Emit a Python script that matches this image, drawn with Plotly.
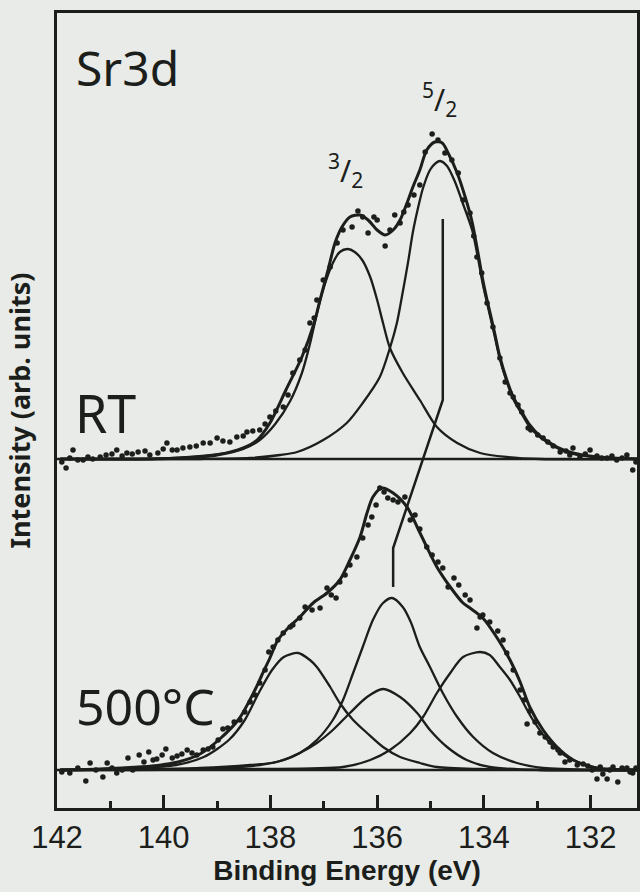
import plotly.graph_objects as go

# ---------------- data (binding energy in eV, intensity in arb. units) ----------------
RT_OFFSET = 349
HT_OFFSET = 38

rt_pts_be = [141.91,141.83,141.76,141.70,141.61,141.51,141.42,141.33,141.19,141.08,
             140.97,140.88,140.78,140.69,140.59,140.48,140.35,140.26,140.11,140.01,
             139.94,139.84,139.75,139.64,139.51,139.39,139.26,139.13,139.00,138.89,
             138.76,138.63,138.51,138.44,138.33,138.20,138.10,138.01,137.90,137.76,
             137.67,137.58,137.45,137.35,137.26,137.18,137.13,137.01,136.88,136.75,
             136.64,136.47,136.36,136.27,136.17,136.06,136.00,135.85,135.76,135.67,
             135.57,135.50,135.42,135.31,135.20,135.10,134.97,134.86,134.73,134.60,
             134.48,134.39,134.26,134.19,134.13,134.04,133.94,133.83,133.70,133.60,
             133.51,133.45,133.36,133.29,133.17,133.12,132.99,132.89,132.80,132.70,
             132.57,132.46,132.39,132.33,132.20,132.10,132.01,131.88,131.79,131.69,
             131.60,131.51,131.41,131.32,131.21,131.15]
rt_pts_int = [-3,-9,1,9,-1,-1,2,0,2,4,
              5,9,3,6,5,7,8,4,6,10,
              16,9,9,11,12,13,16,16,21,18,
              17,22,23,27,28,29,35,42,48,52,
              64,86,99,109,136,141,159,179,192,216,
              229,232,248,242,226,242,239,213,229,244,
              236,247,254,264,274,307,325,319,306,299,
              286,259,246,223,202,186,156,132,101,77,
              66,62,54,47,31,29,24,21,17,13,
              7,8,4,11,2,5,9,3,1,1,
              3,-1,1,4,-11,-3]

rt_fit_be = [141.94,141.19,140.26,139.64,139.00,138.51,138.25,138.01,137.71,137.41,
             137.18,137.07,136.92,136.79,136.66,136.51,136.32,136.17,136.00,135.85,
             135.70,135.57,135.44,135.33,135.20,135.07,134.92,134.78,134.67,134.50,
             134.35,134.22,134.11,134.02,133.94,133.81,133.70,133.57,133.45,133.29,
             133.14,132.95,132.63,132.33,131.88,131.13]
rt_fit_int = [0,0,0,1,4,11,19,36,69,102,
              136,159,189,216,232,242,244,239,229,224,
              229,239,256,272,289,309,317,316,306,286,
              262,237,206,179,159,129,102,79,62,47,
              34,23,12,6,2,0]

rt_d52_be = [141.94,140.26,139.32,138.38,137.82,137.50,137.01,136.57,136.27,135.95,
             135.76,135.63,135.52,135.42,135.33,135.23,135.14,135.01,134.90,134.82,
             134.69,134.54,134.39,134.22,134.11,134.02,133.94,133.81,133.70,133.57,
             133.45,133.29,133.14,132.95,132.63,132.33,131.88,131.13]
rt_d52_int = [0,0,0,1,4,7,19,36,56,82,
              111,136,167,197,227,252,271,289,296,298,
              293,277,255,229,201,175,156,126,100,77,
              60,45,32,22,11,5,2,0]

rt_d32_be = [141.94,140.26,139.51,138.95,138.51,138.20,137.91,137.63,137.41,137.26,
             137.11,137.01,136.83,136.70,136.55,136.42,136.28,136.13,136.00,135.89,
             135.76,135.52,135.20,134.88,134.50,134.07,133.57,132.95,131.13]
rt_d32_int = [0,0,2,5,10,19,35,58,86,115,
              150,170,196,207,210,207,199,182,159,136,
              111,86,59,32,16,6,2,0,0]

ht_pts_be = [141.91,141.76,141.61,141.46,141.38,141.27,141.14,141.06,140.97,140.88,
             140.78,140.67,140.58,140.46,140.37,140.28,140.20,140.13,140.03,139.96,
             139.84,139.75,139.66,139.56,139.47,139.38,139.26,139.17,139.08,138.98,
             138.89,138.80,138.68,138.57,138.48,138.38,138.29,138.20,138.10,138.03,
             137.95,137.86,137.76,137.63,137.58,137.45,137.35,137.22,137.07,136.94,
             136.86,136.77,136.70,136.60,136.51,136.38,136.27,136.17,136.10,136.02,
             135.95,135.87,135.80,135.70,135.61,135.48,135.38,135.29,135.20,135.07,
             134.97,134.86,134.77,134.67,134.56,134.47,134.35,134.26,134.13,134.07,
             134.02,133.89,133.74,133.64,133.57,133.45,133.32,133.25,133.19,133.14,
             133.04,132.95,132.85,132.76,132.70,132.61,132.57,132.48,132.39,132.25,
             132.14,132.05,131.97,131.88,131.82,131.77,131.69,131.64,131.58,131.49,
             131.41,131.32,131.26,131.21,131.15]
ht_pts_int = [-2,-3,2,-11,7,0,-7,7,2,-3,
              0,12,0,15,8,18,10,11,15,21,
              12,14,16,20,17,15,20,21,23,30,
              41,42,48,50,58,68,75,87,100,118,
              123,130,137,143,145,152,163,160,162,182,
              175,172,188,195,205,213,232,245,253,265,
              282,278,272,270,268,273,250,255,241,223,
              215,208,202,183,192,185,175,170,142,153,
              155,148,139,130,117,100,80,70,46,59,
              48,37,33,28,23,20,17,8,10,5,
              6,4,0,-9,3,-4,-9,0,3,-12,
              2,2,-2,-3,2]

ht_fit_be = [141.94,141.19,140.78,140.22,139.73,139.32,138.95,138.59,138.29,138.16,
             138.01,137.86,137.67,137.45,137.20,136.94,136.70,136.51,136.32,136.19,
             136.08,135.91,135.70,135.44,135.25,135.07,134.88,134.63,134.39,134.26,
             134.02,133.75,133.51,133.32,133.14,132.89,132.57,132.25,131.88,131.13]
ht_fit_int = [0,1,2,4,8,16,31,51,80,95,
              112,130,142,153,167,177,190,210,233,257,
              273,282,277,263,243,223,203,183,167,162,
              152,132,110,88,63,40,20,8,2,0]

ht_c1_be = [141.94,140.54,139.77,139.25,138.78,138.48,138.21,137.97,137.75,137.48,
            137.26,137.13,136.88,136.70,136.45,136.19,135.89,135.57,135.20,134.88,
            134.07,132.57,131.13]
ht_c1_int = [0,2,5,13,30,50,78,100,113,117,
             110,103,83,67,50,37,23,13,7,3,
             1,0,0]

ht_c2_be = [141.94,139.32,138.38,137.88,137.45,137.13,136.83,136.64,136.45,136.27,
            136.08,135.89,135.72,135.52,135.37,135.20,135.01,134.77,134.50,134.20,
            133.83,133.38,132.89,131.82,131.13]
ht_c2_int = [0,2,5,8,17,30,50,70,97,123,
             150,167,172,163,148,123,103,77,53,33,
             17,7,2,0,0]

ht_c3_be = [141.94,139.32,138.20,137.76,137.45,137.13,136.83,136.51,136.19,135.89,
            135.57,135.25,135.01,134.69,134.32,133.89,132.95,131.13]
ht_c3_int = [0,1,5,10,17,27,40,57,73,81,
             73,57,40,23,10,3,0,0]

ht_c4_be = [141.94,138.38,136.64,136.13,135.76,135.38,135.14,134.88,134.63,134.39,
            134.07,133.89,133.70,133.51,133.32,133.08,132.76,132.44,132.07,131.64,
            131.13]
ht_c4_int = [0,1,3,10,20,37,53,77,97,113,
             118,115,103,90,73,50,27,13,5,0,
             0]

shift_be = [134.77, 134.77, 135.70, 135.70]
shift_int = [589, 408, 260, 221]

baseline_be = [142.0, 131.13]
x_ticks = [142, 140, 138, 136, 134, 132]
x_minor_ticks = [141, 139, 137, 135, 133]

# ---------------- styling ----------------
INK = "#1c1e1c"
BG = "#e8ebe7"
LABEL_FONT = "Noto Sans, DejaVu Sans, sans-serif"
TICK_FONT = "Liberation Sans, Arial, sans-serif"


def shifted(vals, off):
    return [v + off for v in vals]


fig = go.Figure()


def add_curve(xs, ys, width):
    fig.add_trace(go.Scatter(x=xs, y=ys, mode="lines",
                             line=dict(color=INK, width=width, shape="spline", smoothing=0.8),
                             hoverinfo="skip"))


# baselines
for off in (RT_OFFSET, HT_OFFSET):
    fig.add_trace(go.Scatter(x=baseline_be, y=[off, off], mode="lines",
                             line=dict(color=INK, width=2.5), hoverinfo="skip"))

# RT components and fit
add_curve(rt_d32_be, shifted(rt_d32_int, RT_OFFSET), 2.3)
add_curve(rt_d52_be, shifted(rt_d52_int, RT_OFFSET), 2.3)
add_curve(rt_fit_be, shifted(rt_fit_int, RT_OFFSET), 3)

# 500 C components and fit
for be, it in ((ht_c1_be, ht_c1_int), (ht_c2_be, ht_c2_int),
               (ht_c3_be, ht_c3_int), (ht_c4_be, ht_c4_int)):
    add_curve(be, shifted(it, HT_OFFSET), 2.3)
add_curve(ht_fit_be, shifted(ht_fit_int, HT_OFFSET), 3)

# measured points
fig.add_trace(go.Scatter(x=rt_pts_be, y=shifted(rt_pts_int, RT_OFFSET), mode="markers",
                         marker=dict(color=INK, size=5.5), name="RT"))
fig.add_trace(go.Scatter(x=ht_pts_be, y=shifted(ht_pts_int, HT_OFFSET), mode="markers",
                         marker=dict(color=INK, size=5.5), name="500°C"))

# peak-shift guide line
fig.add_trace(go.Scatter(x=shift_be, y=shift_int, mode="lines",
                         line=dict(color=INK, width=2.5), hoverinfo="skip"))


def label(text, x, y, size):
    fig.add_annotation(text=text, x=x, y=y, xref="paper", yref="paper",
                       xanchor="center", yanchor="middle", showarrow=False,
                       font=dict(family=LABEL_FONT, color=INK, size=size))


label("Sr3d", 0.122, 0.931, 48)
label("RT", 0.084, 0.497, 52)
label("500°C", 0.152, 0.128, 50)
label("<sup>5</sup>/<sub>2</sub>", 0.660, 0.891, 30)
label("<sup>3</sup>/<sub>2</sub>", 0.497, 0.802, 30)

fig.update_layout(
    width=640, height=892,
    margin=dict(l=57, r=3, t=13, b=84, autoexpand=False),
    paper_bgcolor=BG, plot_bgcolor=BG,
    showlegend=False,
    xaxis=dict(
        range=[142, 131.13], automargin=False,
        tickmode="array", tickvals=x_ticks, ticktext=[str(v) for v in x_ticks],
        ticks="inside", ticklen=13, tickwidth=3, tickcolor=INK,
        minor=dict(tickmode="array", tickvals=x_minor_ticks,
                   ticks="inside", ticklen=7, tickwidth=3, tickcolor=INK),
        showline=True, linewidth=3, linecolor=INK, mirror=True,
        showgrid=False, zeroline=False,
        tickfont=dict(family=TICK_FONT, size=31, color=INK),
        title=dict(text="Binding Energy (eV)", standoff=0,
                   font=dict(family=TICK_FONT, size=28, color=INK, weight="bold")),
    ),
    yaxis=dict(
        range=[0, 795], automargin=False,
        showticklabels=False, ticks="",
        showline=True, linewidth=3, linecolor=INK, mirror=True,
        showgrid=False, zeroline=False,
        title=dict(text="Intensity (arb. units)", standoff=16,
                   font=dict(family=LABEL_FONT, size=27, color=INK, weight="bold")),
    ),
)

fig.write_html(
    "out.html",
    config={"displayModeBar": False},
    post_script="document.body.style.margin='0';document.body.style.background='%s';" % BG,
)
